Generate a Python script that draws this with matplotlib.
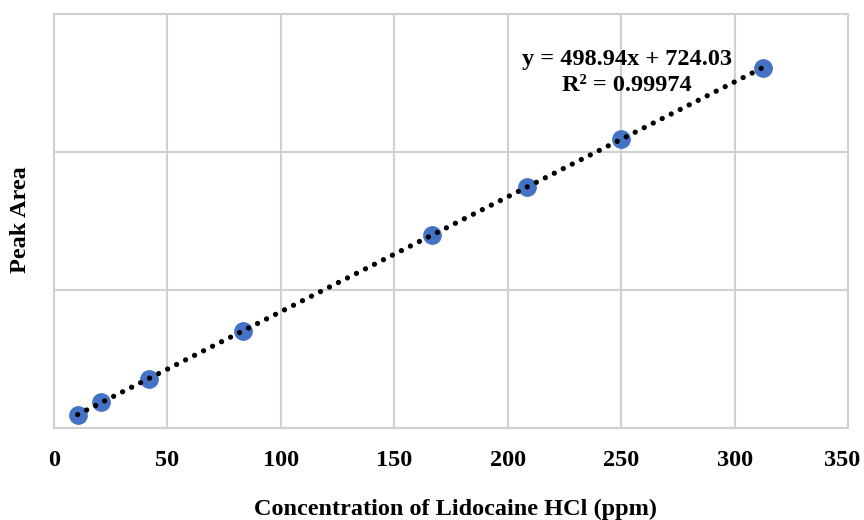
import matplotlib.pyplot as plt
import matplotlib.transforms as mtrans
import numpy as np

# calibration data
conc = [10.42, 20.83, 41.67, 83.33, 166.67, 208.33, 250.0, 312.5]
area = [5650, 11200, 21400, 42100, 84000, 104900, 125600, 156500]
eq_text = 'y = 498.94x + 724.03'
r2_text = 'R\u00b2 = 0.99974'
x_ticks = [0, 50, 100, 150, 200, 250, 300, 350]
y_ticks = [0, 60000, 120000, 180000]

plt.rcParams['font.family'] = ['Liberation Serif', 'DejaVu Serif']
plt.rcParams['font.weight'] = 'bold'

fig = plt.figure(figsize=(8.64, 5.2), dpi=100)
ax = fig.add_axes([0.0625, 0.177, 0.919, 0.796])

grid_col = '#d0d0d0'
x = np.array(conc)
slope, icpt = np.polyfit(x, area, 1)
xl = np.array([x.min(), x.max()])
ax.plot(xl, slope * xl + icpt, color='black', lw=3.8,
        linestyle=(0, (0.01, 1.9)), dash_capstyle='round', zorder=3)
ax.plot(conc, area, 'o', color='#4472C4', markersize=12.5, zorder=2)

ax.set_xlim(0, 350)
ax.set_ylim(0, 180000)
ax.set_xticks(x_ticks)
ax.set_yticks(y_ticks)
ax.set_yticklabels([])
ax.tick_params(length=0, labelsize=17.5, pad=16)
ax.grid(True, color=grid_col, lw=1.5)
for s in ax.spines.values():
    s.set_color(grid_col)
    s.set_linewidth(1.5)

# last tick label pulled in a little so it stays on the canvas
last = ax.get_xticklabels()[-1]
last.set_transform(last.get_transform() +
                   mtrans.ScaledTranslation(-6 / 100, 0, fig.dpi_scale_trans))

fig.text(0.527, 0.021, 'Concentration of Lidocaine HCl (ppm)', ha='center',
         va='center', fontsize=17.5, fontweight='bold')
fig.text(0.024, 0.577, 'Peak Area', ha='center', va='center', rotation=90,
         fontsize=17.5, fontweight='bold')

ax.text(0.722, 0.889, eq_text, transform=ax.transAxes, ha='center',
        va='center', fontsize=17.5, fontweight='bold')
ax.text(0.722, 0.828, r2_text, transform=ax.transAxes, ha='center',
        va='center', fontsize=17.5, fontweight='bold')

plt.savefig('out.png', dpi=100)
